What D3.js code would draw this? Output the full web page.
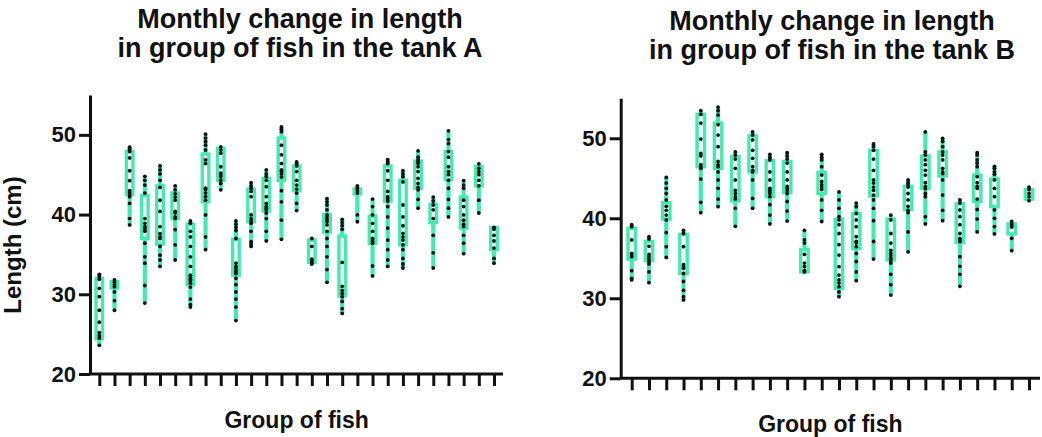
<!DOCTYPE html>
<html>
<head>
<meta charset="utf-8">
<script src="https://cdn.jsdelivr.net/npm/d3@7"></script>
<style>
body { margin: 0; background: #fff; }
text { font-family: "Liberation Sans", Arial, sans-serif; font-weight: bold; fill: #111; }
</style>
</head>
<body>
<svg width="1042" height="437"></svg>
<script>

var yTicks = [20, 30, 40, 50];

// tank A
var groupsA = ["1","2","3","4","5","6","7","8","9","10","11","12","13","14","15","16","17","18","19","20","21","22","23","24","25","26","27"];
var pointsA = [
  [32.5,32.2,31.9,30.75,29.7,28.0,26.5,25.2,24.8,24.5,23.6],
  [31.8,31.5,31.2,30.95,30.3,29.2,28.0],
  [48.45,48.2,47.9,47.1,45.5,44.25,43.0,42.75,42.45,42.25,41.4,39.5,38.7],
  [44.8,44.3,43.7,42.7,39.5,38.9,38.5,38.3,38.1,37.9,36.4,34.7,33.9,31.1,28.9],
  [46.1,45.6,45.1,44.3,43.4,41.8,40.4,38.5,37.6,37.2,37.0,36.0,34.9,34.3,33.5],
  [43.6,43.1,42.6,42.2,41.8,40.4,40.2,39.7,39.5,38.1,36.2,34.3],
  [39.2,38.9,37.9,37.2,36.0,34.7,33.5,32.4,32.1,31.9,31.7,31.4,30.9,29.4,28.7,28.4],
  [50.1,49.6,49.15,48.7,48.1,46.85,46.4,43.3,43.1,42.7,42.25,41.8,39.95,37.2,35.6],
  [48.5,48.1,47.7,46.0,45.2,45.0,44.7,44.3,43.9,43.1],
  [39.2,38.8,38.4,38.0,37.0,33.9,33.5,33.3,33.0,32.8,32.6,32.0,31.2,30.3,29.4,28.4,26.7],
  [44.0,43.6,43.3,42.9,42.25,39.95,39.5,39.2,38.9,37.9,36.6,36.3,36.0],
  [45.6,45.1,44.75,44.3,43.5,42.25,41.4,41.0,40.8,40.6,40.2,39.5,37.9,36.7],
  [51.0,50.7,50.4,48.7,47.5,46.4,45.6,45.4,45.1,44.7,43.0,41.6,39.3,36.9],
  [46.6,46.35,46.1,45.4,44.3,43.7,43.2,42.7,41.4,40.5],
  [37.0,36.0,34.4,34.2,34.0,33.8],
  [42.0,41.6,41.2,40.6,39.95,39.7,39.4,39.1,38.7,37.9,37.0,36.0,34.7,33.1,31.5],
  [39.4,39.0,38.6,38.15,34.0,31.0,30.5,30.1,29.7,29.1,28.2,27.6],
  [43.6,43.3,43.0,42.7,39.95,39.1],
  [41.95,41.0,39.95,38.9,37.9,37.0,36.8,36.6,36.4,33.55,32.3],
  [46.9,46.6,46.4,45.5,44.3,42.9,42.25,42.0,41.7,41.0,39.7,38.3,36.8,35.6,34.3,33.5],
  [45.5,45.1,44.75,44.1,41.2,39.7,38.6,37.65,37.2,36.8,36.2,35.6,34.5,33.8,33.3],
  [48.0,47.2,46.85,46.6,46.4,46.0,45.4,44.55,43.9,43.4,43.1,41.9,40.8],
  [42.2,41.7,41.2,40.6,39.5,37.4,35.2,33.3],
  [50.5,49.4,48.9,47.9,47.2,46.0,45.4,45.0,44.3,43.3,41.9,40.8,39.7],
  [44.25,43.7,43.3,41.8,41.0,39.95,39.3,38.8,38.5,37.4,36.4,35.1],
  [46.35,45.8,45.4,45.0,44.3,43.6,41.8,40.2],
  [38.4,38.15,37.4,36.7,35.8,34.5,33.9]
];
var boxLowA  = [24.4,30.8,42.5,37.0,36.3,39.5,31.2,41.6,44.3,32.4,39.1,40.45,44.3,43.0,34.0,37.8,29.8,42.6,36.4,41.7,36.2,43.3,39.0,44.4,38.3,43.6,35.6];
var boxHighA = [32.0,31.6,47.9,42.4,43.6,42.7,38.8,47.6,48.3,36.9,43.2,44.5,49.6,46.1,36.8,40.0,37.3,43.2,39.8,46.1,44.3,46.7,41.3,47.9,42.2,46.0,38.35];

// tank B
var groupsB = ["1","2","3","4","5","6","7","8","9","10","11","12","13","14","15","16","17","18","19","20","21","22","23","24"];
var pointsB = [
  [39.2,38.95,37.3,35.6,35.4,35.2,33.45,32.5,32.3],
  [37.7,37.4,36.5,35.5,35.2,34.9,34.6,34.3,33.3,31.95],
  [45.1,44.4,43.75,43.1,42.3,41.5,41.0,40.4,39.8,38.2,36.45,35.1],
  [38.5,38.1,36.45,34.2,33.95,33.75,33.1,32.1,31.0,30.2,29.8],
  [53.45,53.0,51.9,49.9,48.1,47.8,46.7,46.45,46.25,44.9,42.0,40.7],
  [53.9,53.45,52.9,51.7,50.4,48.95,47.1,46.7,46.45,45.8,44.8,43.75,42.4,41.45],
  [48.3,47.9,47.4,46.25,44.8,43.5,43.1,42.7,42.4,41.25,39.0],
  [50.8,50.4,49.8,48.5,47.5,46.45,46.0,45.8,44.8,42.5,41.25],
  [48.0,47.6,47.3,45.8,44.8,43.75,43.5,43.3,43.1,42.7,41.7,40.4,39.3],
  [48.2,47.8,47.4,46.9,45.8,44.8,44.0,43.75,43.5,43.1,42.1,40.9,39.65],
  [38.5,37.3,36.9,35.5,34.4,33.95,33.5,33.3],
  [48.0,47.6,47.3,46.45,45.4,44.6,44.2,43.9,43.6,42.3,41.0,39.6],
  [43.3,42.3,41.25,40.2,39.8,39.2,38.1,36.7,35.4,33.95,32.9,32.3,31.9,31.45,30.8,30.2],
  [41.9,41.45,40.6,39.8,38.95,37.7,37.1,36.9,36.45,35.6,34.6,33.3,32.2],
  [49.3,48.95,48.5,47.4,46.0,44.8,44.4,43.9,43.5,42.9,42.3,41.25,39.7,37.1,34.9],
  [40.4,39.8,38.1,36.9,36.0,35.6,35.3,35.0,34.7,34.4,33.0,31.7,30.4],
  [44.8,44.45,44.2,43.9,43.1,42.3,41.5,41.0,40.7,38.3,35.8],
  [50.8,48.3,47.9,47.3,46.7,46.0,45.4,44.45,44.0,43.7,43.1,42.7,40.2,39.3],
  [50.0,49.6,48.95,48.3,47.9,47.3,46.25,45.8,45.6,44.8,42.9,41.0,39.7],
  [42.3,41.9,41.05,40.2,39.2,38.1,37.5,37.3,37.1,35.2,34.0,33.0,31.5],
  [48.2,47.9,47.3,46.9,46.45,45.2,44.45,44.0,43.75,42.4,41.1,39.9,38.3],
  [46.5,46.25,45.8,45.5,44.8,43.75,42.7,41.05,40.0,38.95,38.05],
  [39.6,39.3,39.05,38.9,37.5,35.95],
  [43.9,43.6,43.1,42.7,42.2]
];
var boxLowB  = [34.9,34.7,39.9,33.1,46.45,46.25,42.2,45.8,42.7,43.2,33.3,43.1,31.25,36.25,42.8,34.8,41.1,43.75,45.3,37.0,42.1,41.45,38.05,42.4];
var boxHighB = [38.75,37.1,41.95,38.0,53.0,51.9,47.7,50.3,47.2,47.1,36.1,45.7,39.9,40.6,48.5,39.9,44.0,47.8,48.3,41.8,45.4,44.9,39.3,43.6];

var titleLines = ["Monthly change in length", "in group of fish in the tank "];
var tanks = ["A", "B"];
var yLabel = "Length (cm)";
var xLabel = "Group of fish";

var green = "#44eab0";
var svg = d3.select("svg");

function panel(cfg) {
  var g = svg.append("g");
  var x = d3.scalePoint().domain(cfg.groups).range([cfg.x0, cfg.x1]);
  var y = d3.scaleLinear().domain([20, 55]).range([cfg.bottom, cfg.top]);
  var bw = x.step() * 0.43;

  var rows = cfg.groups.map(function(k, i) {
    var ext = d3.extent(cfg.points[i]);
    return {k: k, pts: cfg.points[i], lo: cfg.low[i], hi: cfg.high[i], min: ext[0], max: ext[1]};
  });

  // axes
  var ya = g.append("g")
      .attr("transform", "translate(" + cfg.axisX + ",0)")
      .call(d3.axisLeft(y).tickValues(yTicks).tickSize(11).tickSizeOuter(0).tickPadding(3));
  ya.selectAll("text").style("font-size", "22px");

  var xa = g.append("g")
      .attr("transform", "translate(0," + cfg.bottom + ")")
      .call(d3.axisBottom(x).tickSize(12).tickFormat(""));
  xa.select(".domain").attr("d", "M" + cfg.axisX + ",0H" + cfg.axisEnd);

  g.selectAll(".domain, .tick line").attr("stroke", "#111").attr("stroke-width", 3);

  // whiskers
  g.selectAll(".whisker").data(rows).join("line")
      .attr("x1", function(d) { return x(d.k); })
      .attr("x2", function(d) { return x(d.k); })
      .attr("y1", function(d) { return y(d.max); })
      .attr("y2", function(d) { return y(d.min); })
      .attr("stroke", green).attr("stroke-width", 4.2);

  // boxes
  g.selectAll(".box").data(rows).join("rect")
      .attr("x", function(d) { return x(d.k) - bw / 2; })
      .attr("y", function(d) { return y(d.hi); })
      .attr("width", bw)
      .attr("height", function(d) { return y(d.lo) - y(d.hi); })
      .attr("fill", "#fff").attr("stroke", green).attr("stroke-width", 3.4);

  // points
  rows.forEach(function(d) {
    g.selectAll(null).data(d.pts).join("circle")
        .attr("cx", x(d.k))
        .attr("cy", function(v) { return y(v); })
        .attr("r", 1.9)
        .attr("fill", "#111");
  });

  // titles
  var t = g.append("text").attr("text-anchor", "middle").style("font-size", "27px");
  t.append("tspan").attr("x", cfg.titleX).attr("y", cfg.titleY).text(titleLines[0]);
  t.append("tspan").attr("x", cfg.titleX).attr("y", cfg.titleY + 29).text(titleLines[1] + cfg.tank);

  g.append("text")
      .attr("text-anchor", "middle")
      .attr("x", (cfg.x0 + cfg.x1) / 2)
      .attr("y", cfg.bottom + 54)
      .style("font-size", "23px")
      .text(xLabel);
}

panel({groups: groupsA, points: pointsA, low: boxLowA, high: boxHighA, tank: tanks[0],
  x0: 99.3, x1: 494, axisX: 90, axisEnd: 503, top: 95, bottom: 374, titleX: 300, titleY: 28});
panel({groups: groupsB, points: pointsB, low: boxLowB, high: boxHighB, tank: tanks[1],
  x0: 631.7, x1: 1029, axisX: 620.7, axisEnd: 1040, top: 98.3, bottom: 378.3, titleX: 832, titleY: 30});

svg.append("text")
    .attr("transform", "translate(21,245) rotate(-90)")
    .attr("text-anchor", "middle")
    .style("font-size", "24px")
    .text(yLabel);

</script>
</body>
</html>
